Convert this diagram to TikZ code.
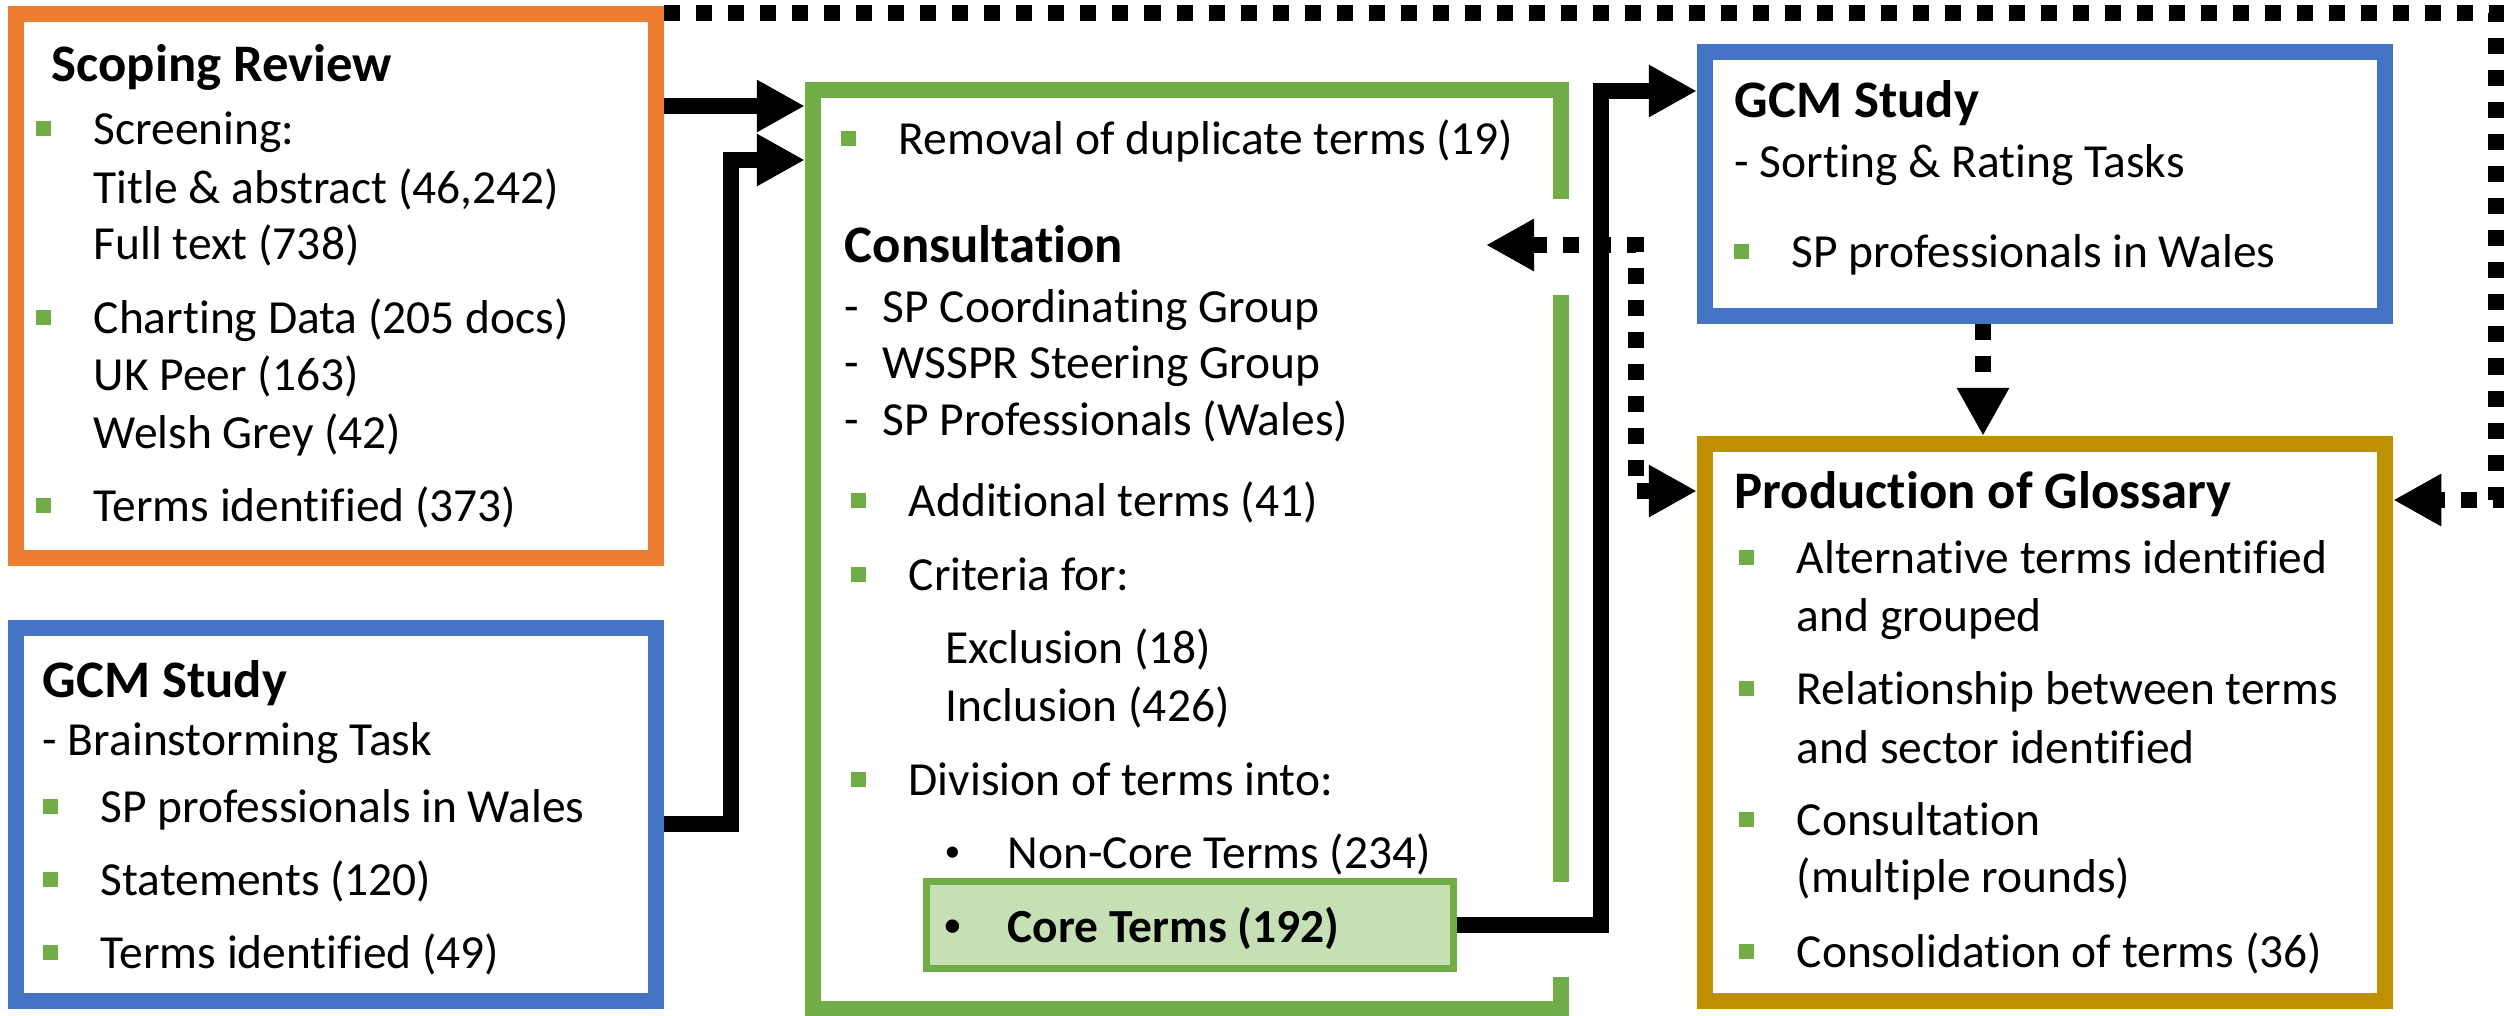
\documentclass[tikz,border=0pt]{standalone}
\usepackage{fontspec}
\setmainfont{Carlito}[Ligatures = NoCommon]
\usetikzlibrary{arrows.meta, calc}

\definecolor{scopeorange}{HTML}{ED7D31}
\definecolor{gcmblue}{HTML}{4472C4}
\definecolor{consultgreen}{HTML}{70AD47}
\definecolor{coregreen}{HTML}{C5E0B4}
\definecolor{glossgold}{HTML}{BF9000}

\newcommand\boxfont{\fontsize{13.5}{16}\selectfont}
\newcommand\headfont{\fontsize{15}{18}\selectfont\bfseries}
\newcommand\dotmark{\makebox[0.63cm][l]{\raisebox{0.3ex}{\fontsize{9}{10}\selectfont\textbullet}}}

\begin{document}
\begin{tikzpicture}[x = 0.01cm, y = -0.01cm, > = {Triangle[length = 0.48cm, width = 0.49cm]},
	stagebox/.style = {draw = #1, line width = 0.16cm, inner sep = 0pt},
	flow/.style = {line width = 0.16cm, ->},
	dotflow/.style = {line width = 0.16cm, dash pattern = on 0.16cm off 0.16cm},
	txt/.style = {anchor = base west, inner sep = 0pt, font = \boxfont},
	ttl/.style = {anchor = base west, inner sep = 0pt, font = \headfont}]

	\useasboundingbox (0, 0) rectangle (2504, 1015);

	% Boxes

	\node [stagebox = scopeorange, minimum width = 6.4cm, minimum height = 5.44cm] (scoping) at (336, 286) {};
	\node [stagebox = gcmblue, minimum width = 6.4cm, minimum height = 3.73cm] (brain) at (336, 814.5) {};
	\node [draw = none, line width = 0.16cm, minimum width = 7.48cm, minimum height = 9.19cm] (consult) at (1187, 549.5) {};
	\node [stagebox = gcmblue, minimum width = 6.8cm, minimum height = 2.64cm] (sort) at (2045, 184) {};
	\node [stagebox = glossgold, minimum width = 6.8cm, minimum height = 5.57cm] (prod) at (2045, 722.5) {};

	% Open border of the consultation box

	\draw [line width = 0.16cm, consultgreen] (1561, 199) -- (1561, 90) -- (813, 90) -- (813, 1009) -- (1561, 1009) -- (1561, 977);
	\draw [line width = 0.16cm, consultgreen] (1561, 295) -- (1561, 882);

	\node [draw = consultgreen, fill = coregreen, line width = 0.07cm, inner sep = 0pt, minimum width = 5.26cm, minimum height = 0.86cm] (core) at (1190, 925) {};

	% Scoping review

	\node [ttl] (srtitle) at (51, 81) {Scoping Review};
	\node [txt] (sr1) at (93, 144) {Screening:};
	\node [txt] (sr2) at (93, 203) {Title \& abstract (46,242)};
	\node [txt] (sr3) at (93, 259) {Full text (738)};
	\node [txt] (sr4) at (93, 333) {Charting Data (205 docs)};
	\node [txt] (sr5) at (93, 390) {UK Peer (163)};
	\node [txt] (sr6) at (93, 448) {Welsh Grey (42)};
	\node [txt] (sr7) at (93, 521) {Terms identified (373)};

	% GCM brainstorming

	\node [ttl] (bstitle) at (42, 697) {GCM Study};
	\node [txt] (bs0) at (42, 755) {- Brainstorming Task};
	\node [txt] (bs1) at (100, 822) {SP professionals in Wales};
	\node [txt] (bs2) at (100, 895) {Statements (120)};
	\node [txt] (bs3) at (100, 968) {Terms identified (49)};

	% Consultation

	\node [txt] (cs0) at (898, 154) {Removal of duplicate terms (19)};
	\node [ttl] (cstitle) at (844, 262) {Consultation};
	\node [txt] (cs1) at (844, 322) {\makebox[0.38cm][l]{-}SP Coordinating Group};
	\node [txt] (cs2) at (844, 378) {\makebox[0.38cm][l]{-}WSSPR Steering Group};
	\node [txt] (cs3) at (844, 435) {\makebox[0.38cm][l]{-}SP Professionals (Wales)};
	\node [txt] (cs4) at (908, 516) {Additional terms (41)};
	\node [txt] (cs5) at (908, 590) {Criteria for:};
	\node [txt] (cs6) at (945, 663) {Exclusion (18)};
	\node [txt] (cs7) at (945, 721) {Inclusion (426)};
	\node [txt] (cs8) at (908, 795) {Division of terms into:};
	\node [txt] (cs9) at (944, 868) {\dotmark Non-Core Terms (234)};
	\node [txt, font = \boxfont\bfseries] (cs10) at (944, 942) {\dotmark Core Terms (192)};

	% GCM sorting and rating

	\node [ttl] (gstitle) at (1734, 117) {GCM Study};
	\node [txt] (gs0) at (1734, 177) {- Sorting \& Rating Tasks};
	\node [txt] (gs1) at (1791, 267) {SP professionals in Wales};

	% Glossary

	\node [ttl] (pgtitle) at (1734, 508) {Production of Glossary};
	\node [txt] (pg1) at (1796, 573) {Alternative terms identified};
	\node [txt] (pg1b) at (1796, 631) {and grouped};
	\node [txt] (pg2) at (1796, 704) {Relationship between terms};
	\node [txt] (pg2b) at (1796, 763) {and sector identified};
	\node [txt] (pg3) at (1796, 835) {Consultation};
	\node [txt] (pg3b) at (1796, 892) {(multiple rounds)};
	\node [txt] (pg4) at (1796, 967) {Consolidation of terms (36)};

	% Square bullets

	\foreach \n in {sr1, sr4, sr7, bs1, bs2, bs3, cs0, cs4, cs5, cs8, gs1, pg1, pg2, pg3, pg4}
		\fill [consultgreen] ($(\n.base west) + (-57.5, -23.5)$) rectangle ++(15, 15);

	% Solid arrows

	\draw [flow] (scoping.east |- 0, 106) -- (consult.west |- 0, 106);

	\coordinate (bsbend) at (731, 160);
	\draw [flow] (brain.east |- 0, 824) -| (bsbend) -- (consult.west |- bsbend);

	\coordinate (crbend) at (1601, 91);
	\draw [flow] (core.east) -| (crbend) -- (sort.west |- crbend);

	% Dotted arrows

	\coordinate (ctip) at (1486, 245);
	\coordinate (dtbend) at (1636, 491);
	\draw [dotflow, <->] (ctip) -| (dtbend) -- (prod.west |- dtbend);

	\draw [dotflow, ->] (sort.south -| 1983, 0) -- (prod.north -| 1983, 0);

	\coordinate (rtbend) at (2496, 500);
	\draw [dotflow, ->] (scoping.east |- 0, 13) -| (rtbend) -- (prod.east |- rtbend);

\end{tikzpicture}
\end{document}
